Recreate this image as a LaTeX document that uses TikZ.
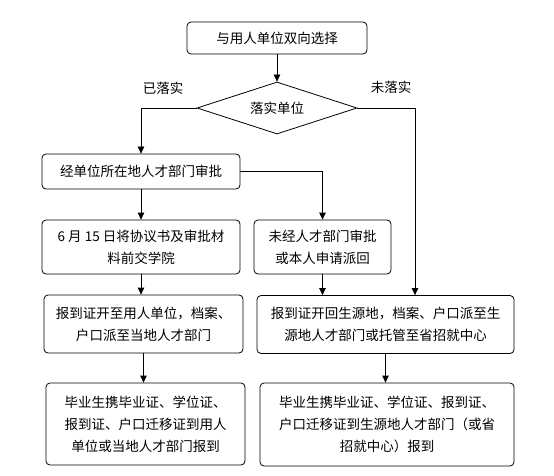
\documentclass[tikz,border=0pt]{standalone}
\usepackage{fontspec}
\setmainfont{Noto Sans CJK SC}
\usetikzlibrary{shapes.geometric, arrows.meta, positioning}

\begin{document}
\begin{tikzpicture}[
        x=1pt, y=-1pt,
        % 样式定义
        block/.style={
            rectangle,
            draw,
            rounded corners=4pt,
            line width=0.8pt,
            inner sep=0pt,
            text centered,
            align=center,
            fill=white,
            font=\fontsize{13.5}{22}\selectfont
        },
        decision/.style={
            diamond,
            draw,
            line width=0.8pt,
            inner sep=0pt,
            aspect=3.08,
            minimum width=160pt,
            minimum height=52pt,
            font=\fontsize{13.5}{22}\selectfont
        },
        arrow/.style={
            -{Triangle[length=7pt, width=6.5pt]},
            line width=0.8pt
        },
        label_text/.style={
            font=\fontsize{13.5}{16}\selectfont
        }
    ]
    \useasboundingbox (0,0) rectangle (554,476);

    % --- 1. 节点 ---

    % 第一层：双向选择
    \node[block, minimum width=180pt, minimum height=32pt] (choose) at (277,38) {与用人单位双向选择};

    % 判断：是否落实单位
    \node[decision] (settle) at (277,108) {落实单位};
    \node[label_text] (yes) at (163,88) {已落实};
    \node[label_text] (no) at (391,87) {未落实};

    % 左侧：已落实
    \node[block, minimum width=198pt, minimum height=35pt] (approve) at (141,171.5) {经单位所在地人才部门审批};
    \node[block, minimum width=198pt, minimum height=54pt] (submit) at (141,247) {6 月 15 日将协议书及审批材\\料前交学院};
    \node[block, minimum width=199pt, minimum height=58pt] (sendUnit) at (143.5,324) {报到证开至用人单位，档案、\\户口派至当地人才部门};
    \node[block, minimum width=199pt, minimum height=82pt] (reportUnit) at (145.5,424) {毕业生携毕业证、学位证、\\报到证、户口迁移证到用人\\单位或当地人才部门报到};

    % 中间：未经审批
    \node[block, minimum width=137pt, minimum height=54pt] (notApprove) at (322.5,247) {未经人才部门审批\\或本人申请派回};

    % 右侧：回生源地
    \node[block, minimum width=257pt, minimum height=58pt] (sendHome) at (385.5,324.5) {报到证开回生源地，档案、户口派至生\\源地人才部门或托管至省招就中心};
    \node[block, minimum width=254pt, minimum height=83pt] (reportHome) at (387,424.5) {毕业生携毕业证、学位证、报到证、\\户口迁移证到生源地人才部门（或省\\招就中心）报到};

    % --- 2. 连线 ---
    \draw[arrow] (choose) -- (settle);

    \draw[arrow] (settle.west) -| (approve.north);
    \draw[arrow] (settle.east) -| ([xshift=29.5pt]sendHome.north);

    \draw[arrow] (approve) -- (submit);
    \draw[arrow] (approve.east) -| (notApprove.north);

    \draw[arrow] (submit.south) -- (submit.south |- sendUnit.north);
    \draw[arrow] (notApprove.south) -- (notApprove.south |- sendHome.north);

    \draw[arrow] (sendUnit.south) -- (sendUnit.south |- reportUnit.north);
    \draw[arrow] (sendHome.south) -- (sendHome.south |- reportHome.north);

\end{tikzpicture}
\end{document}
